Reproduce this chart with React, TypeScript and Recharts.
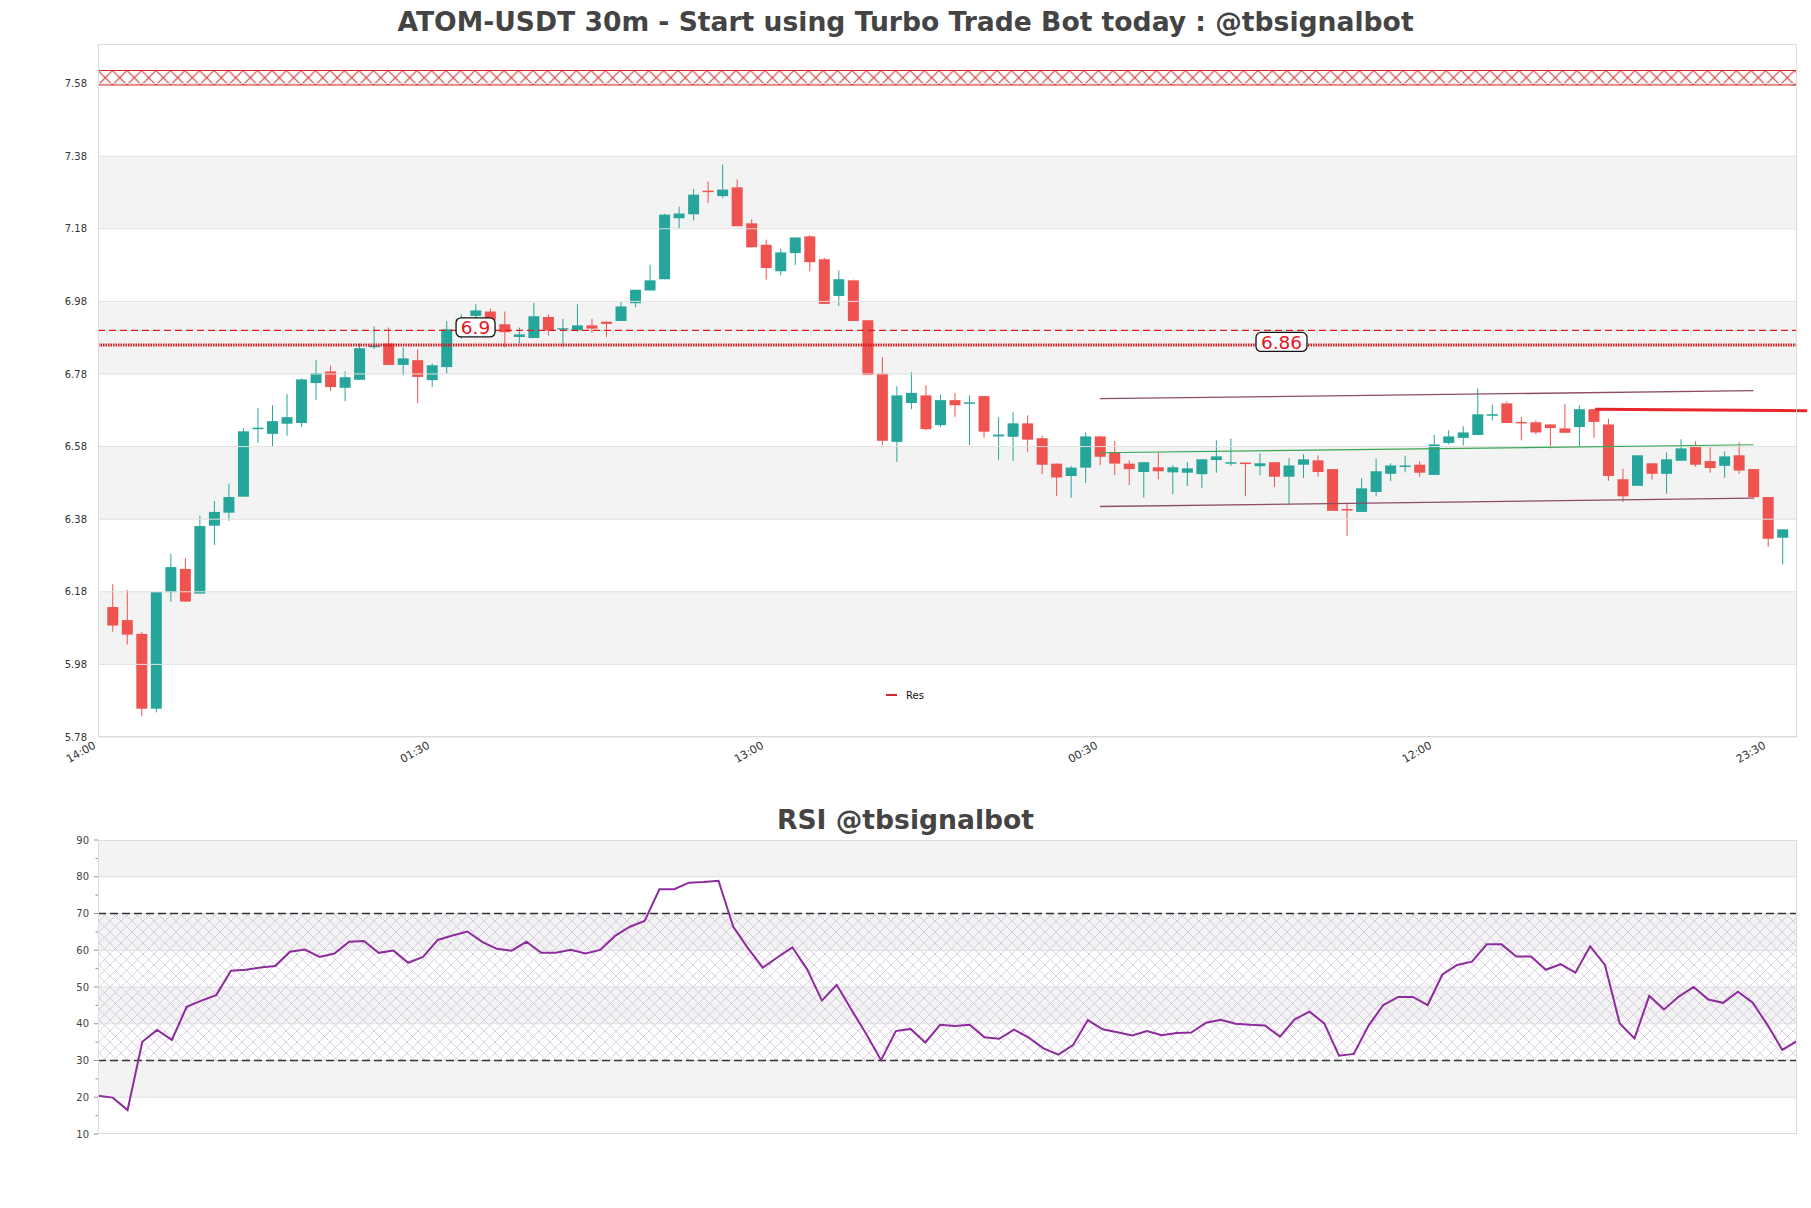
import {
  ComposedChart,
  Bar,
  Line,
  XAxis,
  YAxis,
  ReferenceArea,
  ReferenceLine,
  ReferenceDot,
} from 'recharts';

// ATOM-USDT 30m candles (candle k sits at x = k, 14:00 = 0)
const opens = [
  6.138, 6.102, 6.064, 5.858, 6.179, 6.243, 6.175, 6.362, 6.398, 6.442,
  6.630, 6.615, 6.643, 6.645, 6.755, 6.787, 6.742, 6.764, 6.854, 6.864,
  6.805, 6.818, 6.763, 6.799, 6.920, 6.940, 6.952, 6.917, 6.882, 6.879,
  6.937, 6.905, 6.900, 6.914, 6.924, 6.926, 6.975, 7.010, 7.041, 7.209,
  7.220, 7.285, 7.270, 7.294, 7.195, 7.136, 7.063, 7.113, 7.159, 7.096,
  6.995, 7.038, 6.928, 6.781, 6.593, 6.700, 6.721, 6.639, 6.708, 6.698,
  6.719, 6.608, 6.607, 6.644, 6.603, 6.533, 6.499, 6.522, 6.608, 6.564,
  6.533, 6.510, 6.523, 6.509, 6.508, 6.504, 6.543, 6.535, 6.536, 6.526,
  6.537, 6.497, 6.530, 6.542, 6.518, 6.408, 6.400, 6.455, 6.505, 6.526,
  6.530, 6.502, 6.590, 6.604, 6.612, 6.667, 6.699, 6.648, 6.647, 6.641,
  6.630, 6.634, 6.683, 6.641, 6.490, 6.472, 6.534, 6.505, 6.541, 6.582,
  6.540, 6.527, 6.556, 6.518, 6.441, 6.329,
];
const highs = [
  6.201, 6.185, 6.070, 6.179, 6.284, 6.273, 6.390, 6.430, 6.478, 6.631,
  6.686, 6.694, 6.724, 6.768, 6.818, 6.803, 6.787, 6.864, 6.911, 6.908,
  6.853, 6.848, 6.809, 6.925, 6.944, 6.972, 6.960, 6.952, 6.908, 6.976,
  6.944, 6.932, 6.972, 6.932, 6.925, 6.978, 7.012, 7.081, 7.221, 7.241,
  7.290, 7.310, 7.357, 7.316, 7.206, 7.150, 7.125, 7.156, 7.162, 7.100,
  7.065, 7.040, 6.928, 6.826, 6.746, 6.785, 6.749, 6.723, 6.728, 6.721,
  6.720, 6.661, 6.675, 6.666, 6.610, 6.533, 6.526, 6.619, 6.609, 6.595,
  6.542, 6.537, 6.565, 6.529, 6.537, 6.545, 6.597, 6.602, 6.536, 6.562,
  6.537, 6.548, 6.559, 6.556, 6.518, 6.425, 6.493, 6.547, 6.534, 6.555,
  6.540, 6.613, 6.625, 6.636, 6.740, 6.695, 6.705, 6.662, 6.652, 6.641,
  6.697, 6.694, 6.683, 6.657, 6.519, 6.556, 6.534, 6.564, 6.600, 6.595,
  6.578, 6.567, 6.592, 6.518, 6.441, 6.352,
];
const lows = [
  6.070, 6.035, 5.837, 5.848, 6.153, 6.153, 6.175, 6.309, 6.376, 6.442,
  6.590, 6.579, 6.610, 6.634, 6.708, 6.733, 6.705, 6.764, 6.849, 6.805,
  6.776, 6.700, 6.744, 6.781, 6.877, 6.920, 6.915, 6.853, 6.864, 6.879,
  6.886, 6.854, 6.896, 6.893, 6.882, 6.926, 6.964, 7.010, 7.041, 7.181,
  7.203, 7.251, 7.265, 7.187, 7.129, 7.040, 7.052, 7.080, 7.063, 6.973,
  6.967, 6.926, 6.777, 6.584, 6.538, 6.683, 6.625, 6.634, 6.662, 6.584,
  6.604, 6.543, 6.541, 6.566, 6.504, 6.444, 6.439, 6.480, 6.529, 6.501,
  6.474, 6.439, 6.490, 6.449, 6.471, 6.466, 6.508, 6.527, 6.443, 6.501,
  6.469, 6.421, 6.494, 6.497, 6.403, 6.334, 6.400, 6.443, 6.485, 6.509,
  6.497, 6.502, 6.586, 6.583, 6.612, 6.652, 6.645, 6.597, 6.614, 6.575,
  6.618, 6.581, 6.604, 6.486, 6.428, 6.472, 6.489, 6.450, 6.541, 6.524,
  6.508, 6.494, 6.505, 6.435, 6.304, 6.255,
];
const closes = [
  6.087, 6.062, 5.858, 6.179, 6.248, 6.153, 6.361, 6.400, 6.441, 6.622,
  6.632, 6.650, 6.661, 6.765, 6.782, 6.744, 6.771, 6.851, 6.858, 6.805,
  6.823, 6.772, 6.804, 6.903, 6.932, 6.955, 6.928, 6.895, 6.889, 6.939,
  6.900, 6.906, 6.914, 6.905, 6.918, 6.966, 7.012, 7.038, 7.219, 7.222,
  7.274, 7.281, 7.288, 7.187, 7.129, 7.072, 7.115, 7.156, 7.088, 6.973,
  7.041, 6.926, 6.777, 6.596, 6.721, 6.728, 6.628, 6.708, 6.694, 6.702,
  6.621, 6.613, 6.644, 6.599, 6.530, 6.495, 6.522, 6.608, 6.552, 6.533,
  6.518, 6.537, 6.512, 6.523, 6.520, 6.545, 6.553, 6.537, 6.532, 6.534,
  6.497, 6.528, 6.545, 6.510, 6.403, 6.406, 6.465, 6.512, 6.528, 6.528,
  6.508, 6.586, 6.608, 6.619, 6.669, 6.669, 6.645, 6.645, 6.619, 6.631,
  6.618, 6.683, 6.648, 6.499, 6.443, 6.556, 6.505, 6.545, 6.575, 6.530,
  6.521, 6.553, 6.514, 6.441, 6.326, 6.352,
];

const xTicks = [0, 23, 46, 69, 92, 115];
const xTickLabels = ['14:00', '01:30', '13:00', '00:30', '12:00', '23:30'];
const priceTicks = [5.78, 5.98, 6.18, 6.38, 6.58, 6.78, 6.98, 7.18, 7.38, 7.58];
const greyBands = [[5.98, 6.18], [6.38, 6.58], [6.78, 6.98], [7.18, 7.38]];

const supplyZone = [7.576, 7.616];
const dashedLevel = 6.9;
const resLevel = 6.86;
const channelTop = [{ x: 69, y: 6.712 }, { x: 114, y: 6.734 }];
const channelMid = [{ x: 69, y: 6.563 }, { x: 114, y: 6.585 }];
const channelBottom = [{ x: 69, y: 6.415 }, { x: 114, y: 6.438 }];
const redTrend = [{ x: 103.1, y: 6.683 }, { x: 117.7, y: 6.679 }];

// RSI, one value per bar, first at the left edge, last at the right edge
const rsiValues = [
  20.4, 19.9, 16.5, 35.1, 38.3, 35.6, 44.6, 46.3, 47.8, 54.4,
  54.7, 55.3, 55.7, 59.6, 60.2, 58.2, 59.1, 62.3, 62.5, 59.3,
  59.9, 56.6, 58.2, 62.8, 64.0, 65.1, 62.3, 60.4, 59.9, 62.3,
  59.3, 59.3, 60.1, 59.1, 60.1, 63.9, 66.4, 68.0, 76.6, 76.6,
  78.4, 78.6, 78.9, 66.4, 60.5, 55.3, 58.1, 60.8, 54.8, 46.3,
  50.6, 43.8, 37.2, 30.1, 38.0, 38.6, 34.9, 39.7, 39.4, 39.7,
  36.3, 35.9, 38.4, 36.2, 33.3, 31.6, 34.2, 41.0, 38.5, 37.7,
  36.8, 38.0, 36.9, 37.5, 37.6, 40.3, 41.1, 40.0, 39.7, 39.5,
  36.5, 41.2, 43.3, 40.1, 31.3, 31.8, 39.5, 45.1, 47.3, 47.3,
  45.1, 53.4, 56.0, 56.9, 61.6, 61.6, 58.3, 58.3, 54.7, 56.2,
  53.9, 61.1, 56.0, 40.1, 36.0, 47.6, 43.9, 47.4, 50.0, 46.6,
  45.7, 48.7, 45.7, 39.7, 32.9, 35.3,
];
const rsiTicks = [10, 15, 20, 25, 30, 35, 40, 45, 50, 55, 60, 65, 70, 75, 80, 85, 90];
const rsiGrid = [20, 30, 40, 50, 60, 70, 80];
const rsiGreyBands = [[20, 30], [40, 50], [60, 70], [80, 90]];

const candles = opens.map((o, k) => ({
  i: k + 1,
  open: o,
  high: highs[k],
  low: lows[k],
  close: closes[k],
}));
const rsi = rsiValues.map((v, i) => ({ i, v }));

const UP = '#26a69a';
const DOWN = '#ef5350';
const FONT = 'DejaVu Sans, sans-serif';

function Candle(props: any) {
  const { x, y, width, height, payload } = props;
  if (!payload) return null;
  const { open, close, high, low } = payload;
  const top = Math.min(y, y + height);
  const bottom = Math.max(y, y + height);
  const ppu = high > low ? (bottom - top) / (high - low) : 0;
  const py = (p: number) => top + (high - p) * ppu;
  const cx = x + width / 2;
  const color = close >= open ? UP : DOWN;
  const bTop = py(Math.max(open, close));
  const bBot = py(Math.min(open, close));
  return (
    <g>
      <line x1={cx} x2={cx} y1={top} y2={bottom} stroke={color} strokeWidth={1} />
      <rect x={cx - 5.5} y={bTop} width={11} height={Math.max(bBot - bTop, 1.5)} fill={color} />
    </g>
  );
}

function TimeTick(props: any) {
  const { x, y, payload } = props;
  const idx = xTicks.indexOf(payload.value);
  return (
    <g transform={`translate(${x - 1.5},${y + 10.5})`}>
      <text transform="rotate(-30)" textAnchor="end" fontSize={11} fill="#333" fontFamily={FONT}>
        {xTickLabels[idx]}
      </text>
    </g>
  );
}

function RsiTick(props: any) {
  const { x, y, payload } = props;
  const major = payload.value % 10 === 0;
  return (
    <g>
      <line x1={x - (major ? 4 : 2.5)} x2={x} y1={y} y2={y} stroke="#777" strokeWidth={0.8} />
      {major && (
        <text x={x - 9} y={y} dy="0.35em" textAnchor="end" fontSize={10} fill="#444" fontFamily={FONT}>
          {payload.value}
        </text>
      )}
    </g>
  );
}

function LevelLabel(props: any) {
  const { cx, cy, text, w } = props;
  const c = cy - 3;
  return (
    <g>
      <rect x={cx - w / 2} y={c - 9.5} width={w} height={19} rx={5} fill="#fff" stroke="#111" strokeWidth={1.3} />
      <text x={cx} y={c} dy="0.37em" textAnchor="middle" fontSize={18.5} fill="#e8141c" fontFamily={FONT}>
        {text}
      </text>
    </g>
  );
}

const titleStyle: any = {
  position: 'absolute',
  left: 0,
  width: 1811,
  textAlign: 'center',
  fontFamily: FONT,
  fontWeight: 'bold',
  fontSize: 26.6,
  lineHeight: '30px',
  color: '#444',
};

export default function App() {
  return (
    <div style={{ position: 'absolute', left: 0, top: 0, width: 1811, height: 1208, background: '#fff' }}>
      <svg width={0} height={0} style={{ position: 'absolute' }}>
        <defs>
          <pattern id="zoneHatch" patternUnits="userSpaceOnUse" x={98} y={70.5} width={14.5} height={14.5}>
            <path d="M0,0 L14.5,14.5 M14.5,0 L0,14.5" stroke="#d62728" strokeWidth={1} />
          </pattern>
          <pattern id="rsiHatch" patternUnits="userSpaceOnUse" width={11} height={11}>
            <path d="M0,0 L11,11 M11,0 L0,11" stroke="#cbbcd8" strokeWidth={0.7} />
          </pattern>
        </defs>
      </svg>

      <div style={{ ...titleStyle, top: 7 }}>ATOM-USDT 30m - Start using Turbo Trade Bot today : @tbsignalbot</div>

      <div style={{ position: 'absolute', left: 0, top: 0 }}>
        <ComposedChart
          width={1811}
          height={800}
          data={candles}
          margin={{ top: 44, right: 14, bottom: 13, left: 38 }}
        >
          <XAxis
            dataKey="i"
            type="number"
            domain={[0, 117]}
            ticks={xTicks}
            tick={<TimeTick />}
            tickLine={false}
            axisLine={false}
            tickSize={0}
            tickMargin={0}
            height={50}
            allowDataOverflow
          />
          <YAxis
            type="number"
            domain={[5.78, 7.689]}
            ticks={priceTicks}
            tickFormatter={(v: number) => v.toFixed(2)}
            tick={{ fontSize: 10, fill: '#333', fontFamily: FONT }}
            tickLine={false}
            axisLine={false}
            tickMargin={5}
            width={60}
            allowDataOverflow
          />
          {greyBands.map(([a, b]) => (
            <ReferenceArea key={`band-${a}`} y1={a} y2={b} fill="#f3f3f3" fillOpacity={1} stroke="none" />
          ))}
          {priceTicks.map((t) => (
            <ReferenceLine key={`grid-${t}`} y={t} stroke="#e0e0e0" strokeWidth={1} />
          ))}
          <ReferenceArea
            y1={supplyZone[0]}
            y2={supplyZone[1]}
            fill="url(#zoneHatch)"
            fillOpacity={1}
            stroke="none"
          />
          <ReferenceLine y={supplyZone[0]} stroke="#d62728" strokeWidth={1.2} />
          <ReferenceLine y={supplyZone[1]} stroke="#d62728" strokeWidth={1.2} />
          <ReferenceLine y={dashedLevel} stroke="#e31a1c" strokeWidth={1.2} strokeDasharray="7 4" />
          <ReferenceLine y={resLevel} stroke="#d7191c" strokeWidth={3} strokeDasharray="1.5 1" />
          <ReferenceLine segment={channelTop} stroke="#8c4d66" strokeWidth={1.3} ifOverflow="visible" />
          <ReferenceLine segment={channelBottom} stroke="#8c4d66" strokeWidth={1.3} ifOverflow="visible" />
          <ReferenceLine segment={channelMid} stroke="#3aa655" strokeWidth={1.2} ifOverflow="visible" />
          <Bar
            dataKey={(d: any) => [d.low, d.high]}
            barSize={11}
            shape={<Candle />}
            isAnimationActive={false}
          />
          <ReferenceLine segment={redTrend} stroke="#e8262a" strokeWidth={3} ifOverflow="visible" />
          <ReferenceDot
            x={26}
            y={dashedLevel}
            ifOverflow="visible"
            shape={(p: any) => <LevelLabel {...p} text="6.9" w={39} />}
          />
          <ReferenceDot
            x={81.5}
            y={resLevel}
            ifOverflow="visible"
            shape={(p: any) => <LevelLabel {...p} text="6.86" w={51} />}
          />
        </ComposedChart>
      </div>

      <div
        style={{
          position: 'absolute',
          left: 98,
          top: 44,
          width: 1699,
          height: 693,
          boxSizing: 'border-box',
          border: '1px solid #dcdcdc',
          pointerEvents: 'none',
        }}
      />

      <div style={{ position: 'absolute', left: 886, top: 689, fontFamily: FONT, fontSize: 10, color: '#111' }}>
        <span style={{ display: 'inline-block', width: 11, height: 2.5, background: '#d62728', verticalAlign: 'middle', marginRight: 9 }} />
        <span style={{ verticalAlign: 'middle' }}>Res</span>
      </div>

      <div style={{ ...titleStyle, top: 805 }}>RSI @tbsignalbot</div>

      <div style={{ position: 'absolute', left: 0, top: 800 }}>
        <ComposedChart
          width={1811}
          height={408}
          data={rsi}
          margin={{ top: 40, right: 14, bottom: 74, left: 38 }}
        >
          <XAxis dataKey="i" type="number" domain={[0, 115]} hide />
          <YAxis
            type="number"
            domain={[10, 90]}
            ticks={rsiTicks}
            tick={<RsiTick />}
            tickLine={false}
            axisLine={false}
            tickSize={0}
            tickMargin={0}
            width={60}
            interval={0}
          />
          {rsiGreyBands.map(([a, b]) => (
            <ReferenceArea key={`rband-${a}`} y1={a} y2={b} fill="#f3f3f3" fillOpacity={1} stroke="none" />
          ))}
          <ReferenceArea y1={30} y2={70} fill="url(#rsiHatch)" fillOpacity={1} stroke="none" />
          {rsiGrid.map((t) => (
            <ReferenceLine key={`rgrid-${t}`} y={t} stroke="#dedede" strokeWidth={1} />
          ))}
          <ReferenceLine y={70} stroke="#333" strokeWidth={1.3} strokeDasharray="8 4" />
          <ReferenceLine y={30} stroke="#333" strokeWidth={1.3} strokeDasharray="8 4" />
          <Line
            type="linear"
            dataKey="v"
            stroke="#8e2c9e"
            strokeWidth={2}
            dot={false}
            isAnimationActive={false}
          />
        </ComposedChart>
      </div>

      <div
        style={{
          position: 'absolute',
          left: 98,
          top: 840,
          width: 1699,
          height: 294,
          boxSizing: 'border-box',
          border: '1px solid #dcdcdc',
          pointerEvents: 'none',
        }}
      />
    </div>
  );
}
